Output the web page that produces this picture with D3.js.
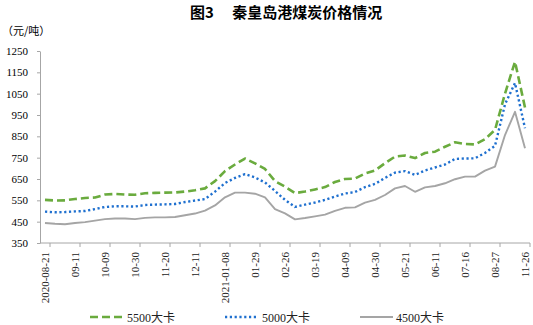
<!DOCTYPE html>
<html><head><meta charset="utf-8">
<script src="https://cdn.jsdelivr.net/npm/d3@7"></script>
<style>body{margin:0;background:#fff}svg{display:block}</style>
</head><body>
<svg id="c" width="533" height="325"></svg>
<script>
const categories = ["2020-08-21","08-28","09-04","09-11","09-18","09-25","10-09","10-16","10-23","10-30",
"11-06","11-13","11-20","11-27","12-04","12-11","12-18","12-25","2021-01-08","01-15",
"01-22","01-29","02-05","02-19","02-26","03-05","03-12","03-19","03-26","04-02",
"04-09","04-16","04-23","04-30","05-07","05-14","05-21","05-28","06-04","06-11",
"06-18","06-25","07-16","07-30","08-13","08-27","10-15","10-22","11-26"];
const s5500 = [552,549,550,556,561,563,577,580,577,576,583,585,586,587,591,597,606,640,687,718,
746,723,697,640,614,584,591,601,612,636,650,652,676,690,724,755,760,748,772,778,
801,822,814,812,837,880,1050,1200,985];
const s5000 = [497,494,495,498,500,509,519,522,522,521,528,530,531,533,542,549,556,591,631,655,
673,657,634,594,552,519,530,540,552,568,582,589,612,627,655,680,687,669,690,704,
718,744,746,747,772,805,1000,1100,888];
const s4500 = [444,440,438,444,448,455,462,465,465,462,468,470,470,472,480,488,502,526,564,586,
586,581,564,509,489,461,467,475,483,501,515,517,539,552,575,606,617,590,611,617,
630,649,661,661,689,708,856,965,794];
const seriesNames = ["5500大卡","5000大卡","4500大卡"];
const yTicks = [350,450,550,650,750,850,950,1050,1150,1250];
const tickEvery = 3;

const svg = d3.select("#c");
const serif = "'Liberation Serif','Times New Roman','Noto Sans CJK SC',serif";
const cjk = "'Noto Sans CJK SC','Liberation Serif',sans-serif";

const x = d3.scaleBand().domain(categories).range([40,530]).paddingInner(0).paddingOuter(0);
const y = d3.scaleLinear().domain([350,1250]).range([243,51]);
const cx = c => x(c) + x.bandwidth()/2;

// title
svg.append("text").attr("x",190).attr("y",18).attr("font-family",cjk).attr("font-size",15)
  .attr("font-weight","bold").attr("fill","#000").text("图3　 秦皇岛港煤炭价格情况");
// unit
svg.append("text").attr("x",2).attr("y",35).attr("font-family",cjk).attr("font-size",11)
  .attr("fill","#000").text("（元/吨）");

// y axis
const yAxis = svg.append("g").attr("transform","translate(40,0)")
  .call(d3.axisLeft(y).tickValues(yTicks).tickFormat(d3.format("d")).tickSize(3).tickSizeOuter(0).tickPadding(9));
yAxis.select(".domain").attr("stroke","#a6a6a6");
yAxis.selectAll(".tick line").attr("stroke","#a6a6a6");
yAxis.selectAll("text").attr("font-family",serif).attr("font-size",11).attr("fill","#000");

// x axis
const labelled = categories.filter((d,i)=>i%tickEvery===0);
svg.append("line").attr("x1",40).attr("x2",530).attr("y1",y(350)).attr("y2",y(350)).attr("stroke","#a6a6a6");
const xt = svg.append("g");
xt.selectAll("line").data(labelled).join("line")
  .attr("x1",d=>x(d)+x.bandwidth()).attr("x2",d=>x(d)+x.bandwidth())
  .attr("y1",y(350)).attr("y2",y(350)+4).attr("stroke","#a6a6a6");
xt.selectAll("text").data(labelled).join("text")
  .attr("transform",d=>`translate(${cx(d)+4},${y(350)+9}) rotate(-90)`)
  .attr("text-anchor","end").attr("font-family",serif).attr("font-size",11).attr("fill","#222")
  .text(d=>d);

// lines
const styles = [
  {data:s5500,color:"#6aab3e",width:2.6,dash:"8,4",cap:"butt"},
  {data:s5000,color:"#1f70cf",width:2.4,dash:"2.2,2.6",cap:"butt"},
  {data:s4500,color:"#a5a5a5",width:1.9,dash:null,cap:"butt"}
];
const line = d3.line().x((d,i)=>cx(categories[i])).y(d=>y(d));
styles.forEach(s=>{
  svg.append("path").datum(s.data).attr("d",line).attr("fill","none")
    .attr("stroke",s.color).attr("stroke-width",s.width)
    .attr("stroke-dasharray",s.dash).attr("stroke-linecap",s.cap).attr("stroke-linejoin","round");
});

// legend
const legendX = [90,225,360];
styles.forEach((s,i)=>{
  const g = svg.append("g").attr("transform",`translate(${legendX[i]},317)`);
  g.append("line").attr("x1",0).attr("x2",33).attr("y1",0).attr("y2",0)
    .attr("stroke",s.color).attr("stroke-width",s.width).attr("stroke-dasharray",s.dash);
  g.append("text").attr("x",i===0?37:(i===1?37:36)).attr("y",4.5).attr("font-family",serif)
    .attr("font-size",12).attr("fill","#222").text(seriesNames[i]);
});
</script>
</body></html>
